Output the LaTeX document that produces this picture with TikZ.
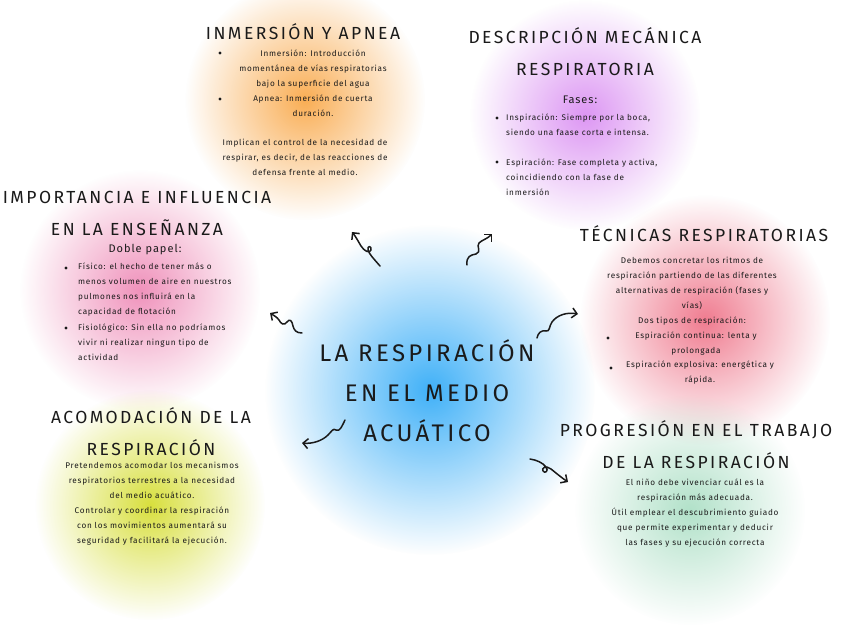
\documentclass[tikz,border=0pt]{standalone}
\usepackage{fontspec}
\setmainfont{Fira Sans}
\newfontfamily\titlefont[LetterSpace=14]{Fira Sans}
\newfontfamily\bodyfont[LetterSpace=9]{Fira Sans}
\usetikzlibrary{fadings,arrows.meta}
\tikzfading[name=blobfade, inner color=transparent!10, outer color=transparent!100]
\definecolor{cOrange}{HTML}{F9A542}
\definecolor{cPurple}{HTML}{D98BF2}
\definecolor{cPink}{HTML}{EE86B4}
\definecolor{cRed}{HTML}{EE6E84}
\definecolor{cBlue}{HTML}{2BA8F7}
\definecolor{cYellow}{HTML}{D4DC28}
\definecolor{cMint}{HTML}{A9DEC3}
\definecolor{ink}{HTML}{1A1A1A}
\tikzset{
  blob/.style={fill=#1, path fading=blobfade},
  ttl/.style={font=\titlefont\fontsize{17.5}{32}\selectfont, text=ink, align=center, inner sep=0pt},
  bigttl/.style={font=\titlefont\fontsize{24}{40}\selectfont, text=ink, align=center, inner sep=0pt},
  sub/.style={font=\bodyfont\fontsize{11}{14}\selectfont, text=ink, inner sep=0pt},
  txt/.style={font=\bodyfont\fontsize{8.2}{15}\selectfont, text=ink, align=center, inner sep=0pt},
  txtl/.style={font=\bodyfont\fontsize{8.2}{15}\selectfont, text=ink, align=left, inner sep=0pt, anchor=west},
  bul/.style={fill=ink},
  squig/.style={draw=ink, line width=1.5pt, line cap=round, line join=round, -{Straight Barb[length=5pt,width=10pt,line width=1.5pt]}}
}
\begin{document}
\begin{tikzpicture}[x=1pt,y=-1pt]
\useasboundingbox (0,0) rectangle (848,636);
\fill[white] (0,0) rectangle (848,636);
% soft blobs
\fill[blob=cOrange] (305,100) circle (120);
\fill[blob=cPurple] (585,115) circle (115);
\fill[blob=cPink] (140,290) circle (120);
\fill[blob=cRed] (705,320) circle (125);
\fill[blob=cYellow] (150,505) circle (115);
\fill[blob=cMint] (690,510) circle (115);
\fill[blob=cBlue] (430,390) circle (165);

% central topic
\node[bigttl] (main) at (427,391) {LA RESPIRACIÓN\\EN EL MEDIO\\ACUÁTICO};

% Inmersion y apnea
\node[ttl] (t1) at (303,32) {INMERSIÓN Y APNEA};
\node[txt] (b1) at (313,83) {Inmersión: Introducción\\momentánea de vías respiratorias\\bajo la superficie del agua\\Apnea: Inmersión de cuerta\\duración.};
\node[txt] (b1b) at (305,157) {Implican el control de la necesidad de\\respirar, es decir, de las reacciones de\\defensa frente al medio.};
\fill[bul] (220,53) circle (1.6);
\fill[bul] (220,99) circle (1.6);

% Descripcion mecanica
\node[ttl] (t2) at (585,52) {DESCRIPCIÓN MECÁNICA\\RESPIRATORIA};
\node[sub] (s2) at (580,100) {Fases:};
\node[txtl] (b2) at (506,125) {Inspiración: Siempre por la boca,\\siendo una faase corta e intensa.};
\node[txtl] (b2b) at (506,177) {Espiración: Fase completa y activa,\\coincidiendo con la fase de\\inmersión};
\fill[bul] (497,118) circle (1.6);
\fill[bul] (497,162) circle (1.6);

% Importancia
\node[ttl] (t3) at (137,213) {IMPORTANCIA E INFLUENCIA\\EN LA ENSEÑANZA};
\node[sub] (s3) at (145,250) {Doble papel:};
\node[txtl] (b3) at (78,290) {Físico: el hecho de tener más o\\menos volumen de aire en nuestros\\pulmones nos influirá en la\\capacidad de flotación};
\node[txtl] (b3b) at (78,342) {Fisiológico: Sin ella no podríamos\\vivir ni realizar ningun tipo de\\actividad};
\fill[bul] (66,268) circle (1.6);
\fill[bul] (66,328) circle (1.6);

% Tecnicas
\node[ttl] (t4) at (704,234) {TÉCNICAS RESPIRATORIAS};
\node[txt] (b4) at (692,291) {Debemos concretar los ritmos de\\respiración partiendo de las diferentes\\alternativas de respiración (fases y\\vías)\\Dos tipos de respiración:};
\node[txt] (b4b) at (696,344) {Espiración continua: lenta y\\prolongada};
\node[txt] (b4c) at (700,373) {Espiración explosiva: energética y\\rápida.};
\fill[bul] (608,338) circle (1.6);
\fill[bul] (611,368) circle (1.6);

% Acomodacion
\node[ttl] (t5) at (151,432) {ACOMODACIÓN DE LA\\RESPIRACIÓN};
\node[txt] (b5) at (152,504) {Pretendemos acomodar los mecanismos\\respiratorios terrestres a la necesidad\\del medio acuático.\\Controlar y coordinar la respiración\\con los movimientos aumentará su\\seguridad y facilitará la ejecución.};

% Progresion
\node[ttl] (t6) at (696,445) {PROGRESIÓN EN EL TRABAJO\\DE LA RESPIRACIÓN};
\node[txt] (b6) at (695,513) {El niño debe vivenciar cuál es la\\respiración más adecuada.\\Útil emplear el descubrimiento guiado\\que permite experimentar y deducir\\las fases y su ejecución correcta};

% connector anchors
\coordinate (a1s) at (380,266); \coordinate (a1e) at (352,232);
\coordinate (a2s) at (467,265); \coordinate (a2e) at (492,234);
\coordinate (a3s) at (302,333); \coordinate (a3e) at (270,313);
\coordinate (a4s) at (537,338); \coordinate (a4e) at (578,314);
\coordinate (a5s) at (345,420); \coordinate (a5e) at (302,443);
\coordinate (a6s) at (530,459); \coordinate (a6e) at (568,482);

\draw[squig] (a1s) .. controls (374,259) and (369,254) .. (368,250)
  .. controls (367,245) and (372,246) .. (371,250)
  .. controls (370,254) and (364,251) .. (361,246)
  .. controls (358,241) and (356,237) .. (a1e);
\draw[squig] (a2s) .. controls (466,256) and (471,255) .. (476,254)
  .. controls (482,252) and (476,246) .. (479,243)
  .. controls (482,240) and (487,239) .. (a2e);
\draw[squig] (a3s) .. controls (296,333) and (294,330) .. (293,326)
  .. controls (292,321) and (290,318) .. (287,322)
  .. controls (284,326) and (281,324) .. (279,320)
  .. controls (277,317) and (273,315) .. (a3e);
\draw[squig] (a4s) .. controls (538,333) and (541,330) .. (546,331)
  .. controls (550,332) and (549,326) .. (552,322)
  .. controls (557,315) and (567,312) .. (a4e);
\draw[squig] (a5s) .. controls (342,426) and (340,432) .. (336,430)
  .. controls (333,428) and (332,431) .. (328,435)
  .. controls (322,441) and (312,444) .. (a5e);
\draw[squig] (a6s) .. controls (537,460) and (543,463) .. (546,467)
  .. controls (549,471) and (545,474) .. (543,471)
  .. controls (541,468) and (546,465) .. (551,469)
  .. controls (556,473) and (562,478) .. (a6e);
\end{tikzpicture}
\end{document}
